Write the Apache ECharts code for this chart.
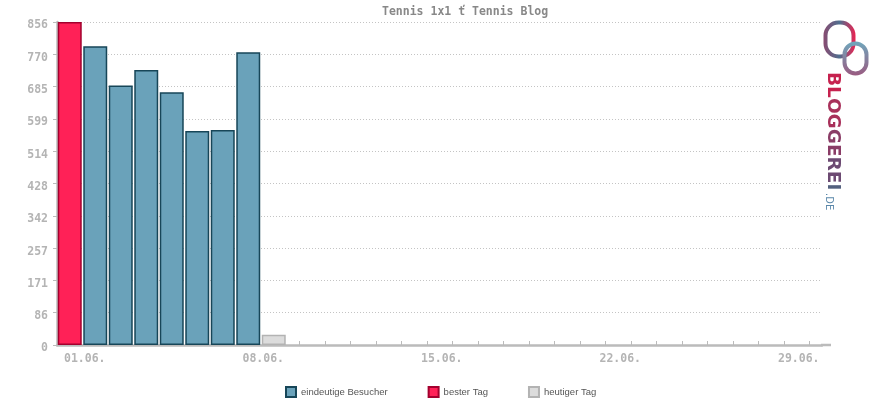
<!DOCTYPE html>
<html>
<head>
<meta charset="utf-8">
<script src="https://cdn.jsdelivr.net/npm/echarts@6/dist/echarts.min.js"></script>
<style>html,body{margin:0;padding:0;background:#fff}#c{width:870px;height:400px}</style>
</head>
<body>
<div id="c"></div>
<script>
const titleText = 'Tennis 1x1 ť Tennis Blog';
const days = ['01.06.','02.06.','03.06.','04.06.','05.06.','06.06.','07.06.','08.06.','09.06.','10.06.','11.06.','12.06.','13.06.','14.06.','15.06.','16.06.','17.06.','18.06.','19.06.','20.06.','21.06.','22.06.','23.06.','24.06.','25.06.','26.06.','27.06.','28.06.','29.06.','30.06.'];
const visitors = [856, 792, 688, 729, 670, 567, 570, 776, 27];
const todayIndex = 8;
const yMax = 856;
const yTicks = 10;
const seriesNames = ['eindeutige Besucher', 'bester Tag', 'heutiger Tag'];

const bestIndex = visitors.indexOf(Math.max(...visitors.slice(0, todayIndex)));
const normalData = days.map((d, i) => (i < visitors.length && i !== bestIndex && i !== todayIndex) ? visitors[i] : null);
const bestData = days.map((d, i) => i === bestIndex ? visitors[i] : null);
const todayData = days.map((d, i) => i === todayIndex ? visitors[i] : null);

const chart = echarts.init(document.getElementById('c'), null, {renderer: 'canvas'});
const mono = '"DejaVu Sans Mono", monospace';
const lf = 'bold 18.5px "DejaVu Sans", sans-serif';
chart.setOption({
  animation: false,
  title: {
    text: titleText, left: 382, top: 6, padding: 0,
    textStyle: {fontFamily: mono, fontWeight: 'bold', fontSize: 11.5, color: '#888'}
  },
  grid: {left: 57, top: 22, width: 765, height: 323, containLabel: false},
  legend: {
    top: 386, left: 285, padding: 0, itemWidth: 10, itemHeight: 10, itemGap: 40,
    icon: 'rect',
    textStyle: {fontFamily: '"Liberation Sans", Arial, sans-serif', fontSize: 9.5, color: '#555'},
    data: seriesNames
  },
  xAxis: {
    type: 'category', data: days,
    axisLine: {lineStyle: {color: '#bbb', width: 2.5}},
    axisTick: {show: true, interval: 0, alignWithLabel: true, length: 4, inside: true, lineStyle: {color: '#bbb', width: 1}},
    axisLabel: {
      interval: 6, margin: 8,
      formatter: v => '{a|' + v + '}',
      rich: {a: {fontFamily: mono, fontWeight: 'bold', fontSize: 11.5, color: '#b4b4b4', padding: [0,0,0,30]}}
    },
    splitLine: {show: false}
  },
  yAxis: {
    type: 'value', min: 0, max: yMax, interval: yMax / yTicks,
    axisLine: {show: true, lineStyle: {color: '#bbb', width: 2.5}},
    axisTick: {show: true, length: 4, lineStyle: {color: '#bbb'}},
    axisLabel: {
      margin: 9, formatter: v => '{a|' + Math.round(v) + '}',
      rich: {a: {fontFamily: mono, fontWeight: 'bold', fontSize: 11.5, color: '#b4b4b4', padding: [7,0,0,0]}}
    },
    splitLine: {lineStyle: {color: '#c4c4c4', type: [1, 2], width: 1}}
  },
  series: [
    {name: seriesNames[0], type: 'bar', stack: 's', data: normalData, barCategoryGap: '6%',
     itemStyle: {color: '#6aa2ba', borderColor: '#174658', borderWidth: 1.5}},
    {name: seriesNames[1], type: 'bar', stack: 's', data: bestData, barCategoryGap: '6%',
     itemStyle: {color: '#ff2157', borderColor: '#a3002e', borderWidth: 1.5}},
    {name: seriesNames[2], type: 'bar', stack: 's', data: todayData, barCategoryGap: '6%',
     itemStyle: {color: '#dcdcdc', borderColor: '#b3b3b3', borderWidth: 1.5}}
  ],
  graphic: [
    {type: 'line', shape: {x1: 821, y1: 345, x2: 831, y2: 345}, z: 5,
     style: {stroke: '#bbb', lineWidth: 2.5}},
    {type: 'rect', left: 823, top: 20, shape: {width: 28, height: 34, r: 13}, z: 10,
     style: {fill: null, lineWidth: 4, stroke: new echarts.graphic.LinearGradient(0,0,1,0,[{offset:0,color:'#8a4a70'},{offset:0.5,color:'#4f6f8f'},{offset:1,color:'#f0204f'}])}},
    {type: 'rect', left: 842, top: 41, shape: {width: 22, height: 30, r: 11}, z: 10,
     style: {fill: null, lineWidth: 4, stroke: new echarts.graphic.LinearGradient(0,0,0,1,[{offset:0,color:'#6fa8bd'},{offset:1,color:'#9a5a80'}])}},
    {type: 'text', x: 823, y: 72, rotation: -Math.PI / 2, z: 10,
     style: {text: '{a|BL}{b|OG}{c|GE}{d|RE}{e|I}', textVerticalAlign: 'bottom', font: lf,
       rich: {
         a: {font: lf, fill: '#c6224f'},
         b: {font: lf, fill: '#a8305a'},
         c: {font: lf, fill: '#8a3c66'},
         d: {font: lf, fill: '#6c4a72'},
         e: {font: lf, fill: '#53607e'}
       }}},
    {type: 'text', x: 824, y: 193, rotation: -Math.PI / 2, z: 10,
     style: {text: '.DE', font: '10px "DejaVu Sans", sans-serif', textVerticalAlign: 'bottom', fill: '#5b88aa'}}
  ]
});
</script>
</body>
</html>
